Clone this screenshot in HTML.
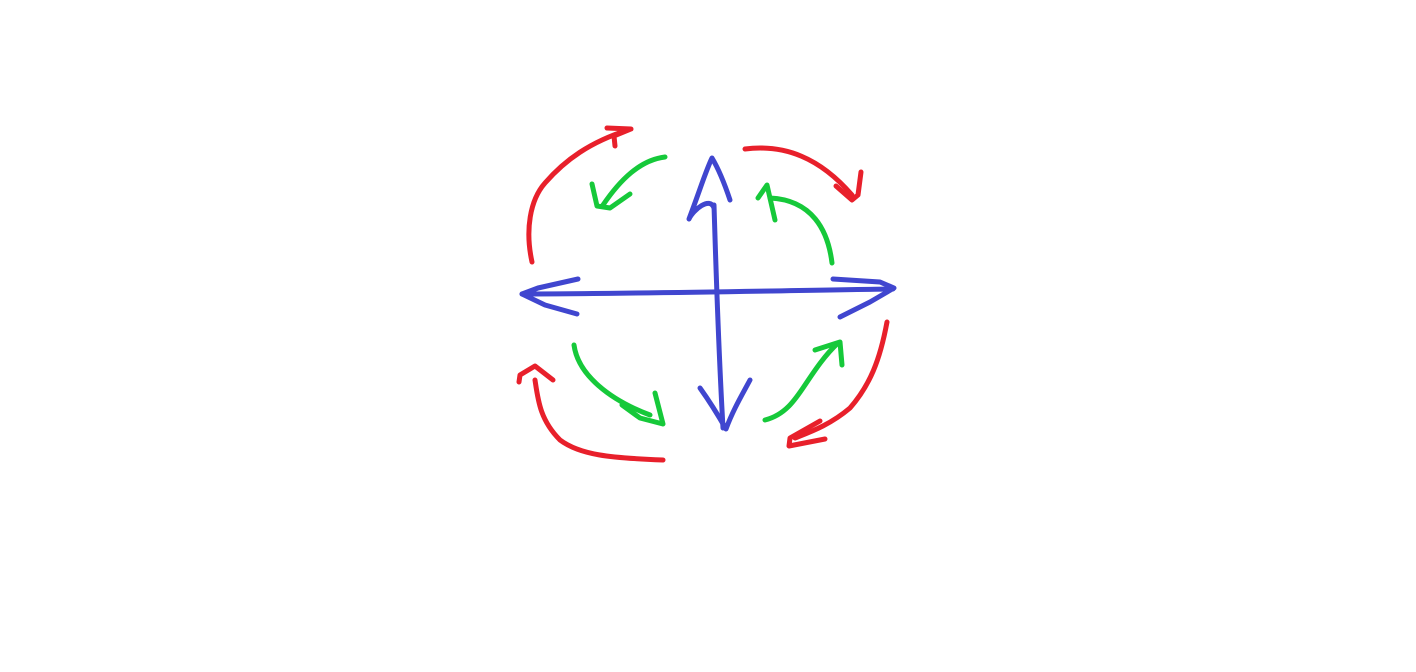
<!DOCTYPE html>
<html><head><meta charset="utf-8"><style>html,body{margin:0;padding:0;background:#fff}svg{display:block}</style></head>
<body>
<svg width="1416" height="672" viewBox="0 0 1416 672" fill="none" stroke-linecap="round" stroke-linejoin="round" stroke-width="5">
<g stroke="#4046cf">
<path d="M522,294 C620,294 760,291 893,289"/>
<path d="M578,279 L538,288 L522,294 L545,305 L577,314"/>
<path d="M833,279 L880,282 L894,288 L870,302 L840,317"/>
<path d="M714,205 C716,270 718,340 723,428"/>
<path d="M689,219 C693,210 710,196 714,208 M689,219 C700,190 706,170 712,158 C718,168 725,185 730,200"/>
<path d="M700,388 C710,402 718,415 726,429 C733,410 742,395 750,380"/>
</g>
<g stroke="#e8202b">
<path d="M532,262 C525,230 530,200 545,183 C565,160 590,142 628,130"/>
<path d="M607,128 L631,129 L614,136 L615,146"/>
<path d="M745,149 C785,144 820,158 852,195"/>
<path d="M836,186 L852,200 L858,195 L861,172"/>
<path d="M663,460 C610,458 580,455 560,440 C540,420 538,400 535,380"/>
<path d="M553,380 L535,366 L520,375 L519,382"/>
<path d="M887,322 C880,360 870,385 850,408 C830,425 810,432 795,438"/>
<path d="M820,421 L790,438 L789,446 L825,439"/>
</g>
<g stroke="#16c93a">
<path d="M665,157 C640,160 620,180 603,205"/>
<path d="M592,184 L597,206 L610,208 L630,194"/>
<path d="M832,263 C828,230 812,200 770,198"/>
<path d="M775,220 L767,185 L758,198"/>
<path d="M574,345 C578,375 610,400 650,415"/>
<path d="M622,405 L640,418 L663,424 L655,393"/>
<path d="M765,420 C785,415 795,400 805,385 C815,370 825,355 838,343"/>
<path d="M815,350 L840,342 L842,365"/>
</g>
</svg>
</body></html>
